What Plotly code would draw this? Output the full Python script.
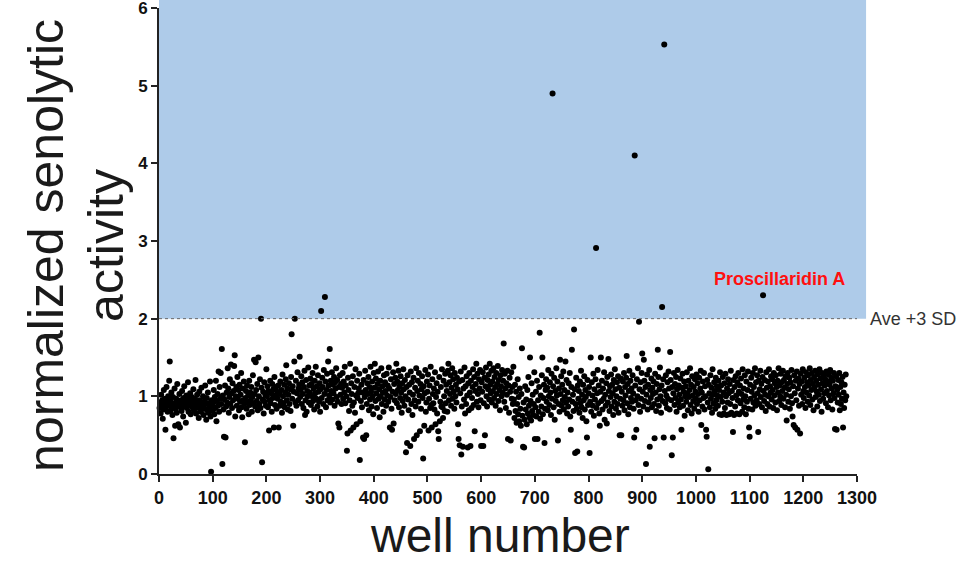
import plotly.graph_objects as go

# normalized senolytic activity per well (wells numbered 1..N)
activity = [
    0.85,0.92,0.78,1.02,0.88,0.95,0.71,0.83,1.08,0.9,0.97,0.57,0.86,1.12,0.93,0.8,1.0,0.89,1.2,1.45,
    0.94,0.82,1.05,0.87,0.76,0.99,0.46,0.91,1.1,0.62,0.84,0.97,0.79,1.16,0.88,0.64,0.93,1.03,0.6,0.86,
    0.95,0.81,1.07,0.9,0.74,0.98,1.13,0.87,0.92,0.66,1.01,0.85,0.96,1.18,0.8,0.93,0.89,1.04,0.77,0.91,
    0.99,0.86,0.94,1.09,0.82,0.9,0.97,1.21,0.78,0.88,1.02,0.93,0.85,0.72,1.06,0.95,0.89,0.8,1.11,0.92,
    0.87,1.0,0.76,0.93,0.84,1.14,0.9,0.7,0.98,0.82,1.05,0.79,0.91,0.86,1.19,0.74,0.03,0.95,0.88,0.81,
    0.92,1.08,0.77,0.99,0.85,1.2,0.68,0.94,1.03,0.88,1.32,0.8,1.12,0.97,1.3,0.9,1.61,0.13,1.01,0.83,
    0.48,0.96,1.14,0.47,0.87,1.05,0.92,1.36,1.1,0.79,0.99,1.22,0.9,1.41,1.04,0.85,1.17,0.95,1.07,1.39,
    1.53,0.74,1.0,1.12,0.88,1.25,0.97,1.08,0.82,1.15,0.93,1.02,1.3,0.86,0.73,1.1,0.95,1.19,0.9,0.41,
    0.98,1.07,0.84,1.14,0.92,1.01,0.77,1.2,0.89,1.05,0.95,1.12,0.8,0.99,1.27,0.91,1.47,1.03,0.87,1.44,
    1.08,0.94,1.16,0.82,1.5,1.0,0.9,1.22,0.85,2.0,1.11,0.15,0.96,1.06,0.78,1.18,0.93,1.02,0.88,1.35,
    1.0,1.13,0.86,1.07,0.56,0.95,1.2,0.91,1.04,0.8,1.16,0.98,1.09,0.6,1.25,0.89,1.01,1.12,0.84,1.06,
    0.97,1.14,0.6,1.03,0.88,1.19,0.93,1.08,0.79,1.28,1.0,0.91,1.15,0.86,1.05,1.22,1.4,0.95,1.1,0.83,
    1.02,1.17,0.9,1.09,0.81,1.25,1.8,0.97,1.13,0.62,1.06,1.45,2.0,0.92,1.2,0.88,1.04,1.31,0.95,1.1,
    1.15,1.51,0.99,1.08,1.26,0.9,1.18,1.03,0.85,1.12,1.33,0.76,0.95,1.21,0.8,1.07,1.0,1.37,0.92,1.14,
    1.05,1.23,0.89,1.16,1.0,1.3,0.94,1.1,0.83,1.2,1.04,1.38,0.97,1.13,0.87,1.27,1.06,0.93,1.17,0.8,
    1.09,2.1,0.98,1.24,1.12,0.9,1.34,1.03,2.28,1.19,0.86,1.08,1.29,0.95,1.45,1.14,1.01,1.61,0.92,1.2,
    1.07,1.31,0.96,1.15,1.04,1.25,0.88,1.18,1.1,1.36,0.99,1.21,0.93,0.65,1.12,0.6,1.27,1.02,1.16,0.9,
    1.11,1.3,0.97,1.19,1.05,1.38,0.91,1.14,1.0,0.3,0.52,1.24,1.08,0.81,0.95,1.42,0.56,1.17,1.03,0.88,
    1.26,0.6,0.92,1.12,0.79,1.35,1.01,0.64,1.2,0.98,1.04,1.1,1.29,0.18,0.68,0.94,1.15,0.86,1.05,0.47,
    1.21,0.45,0.99,1.33,1.08,0.5,0.9,1.17,1.03,1.25,0.82,1.12,0.96,1.38,1.06,0.87,1.19,1.0,0.77,1.3,
    1.11,1.42,0.94,1.23,1.04,0.85,1.16,1.32,0.97,1.09,0.73,1.2,1.0,1.36,0.9,1.13,1.05,0.8,1.27,0.96,
    1.18,1.07,0.88,1.29,1.01,1.14,0.93,1.37,1.1,0.6,0.99,1.22,0.84,0.57,1.06,1.31,0.65,1.16,0.95,1.24,
    1.03,1.42,0.91,1.19,1.08,1.33,0.86,1.13,0.98,1.26,1.05,0.79,1.17,0.94,1.35,1.09,0.88,1.21,1.0,0.28,
    1.12,0.4,1.27,0.96,0.82,1.15,1.05,0.36,1.32,0.9,1.18,0.76,1.02,1.24,0.45,0.95,1.11,0.87,1.36,0.5,
    1.07,1.2,0.93,1.3,1.01,0.55,1.16,0.84,1.09,1.26,0.98,0.2,1.13,0.62,1.04,1.34,0.8,0.92,1.19,1.06,
    1.28,0.56,0.97,1.14,0.85,1.38,0.89,0.6,1.22,1.03,0.91,1.1,0.83,1.31,0.64,0.99,1.17,0.78,1.06,0.55,
    0.45,1.25,0.68,0.93,1.12,0.87,1.35,0.86,0.72,1.2,1.0,0.81,1.29,0.91,1.15,1.07,0.8,1.33,1.42,0.95,
    1.18,1.03,1.27,0.88,1.11,1.36,0.97,1.22,1.06,0.84,1.3,1.0,1.15,0.92,1.24,1.09,0.64,0.45,1.19,0.37,
    1.04,1.32,0.25,0.87,1.21,0.35,1.1,0.96,1.37,0.78,1.13,0.9,1.26,1.01,0.34,1.17,0.82,1.3,1.05,0.36,
    1.2,0.85,0.98,1.12,1.35,0.89,1.25,0.55,1.07,1.16,1.42,0.93,1.29,1.03,0.86,1.22,1.1,1.34,0.95,0.36,
    1.18,1.06,1.31,0.36,0.91,1.24,0.5,1.13,1.37,1.0,0.87,1.21,1.09,1.28,0.96,1.42,1.15,1.04,1.33,0.92,
    1.19,1.07,1.36,0.98,1.25,1.12,0.88,1.3,1.03,1.16,1.39,0.94,1.21,1.08,0.82,1.27,1.13,1.0,1.34,1.05,
    1.2,1.68,0.93,1.29,1.1,0.85,1.17,1.02,1.33,0.45,1.14,0.79,1.24,1.06,0.43,1.31,0.97,1.12,0.9,1.38,
    0.96,0.72,1.15,0.81,1.06,0.66,0.9,1.22,0.77,0.99,0.68,1.1,0.84,0.62,1.03,1.62,0.75,0.35,0.92,0.34,
    0.7,1.13,0.83,0.96,0.64,1.08,0.78,1.25,0.88,0.73,1.5,0.94,0.69,1.17,0.81,1.02,0.76,0.9,1.31,0.45,
    0.86,1.06,0.74,1.2,0.45,0.95,0.8,1.12,1.82,0.71,1.01,0.87,1.27,1.5,0.77,0.98,1.15,0.4,0.84,1.08,
    1.22,0.93,1.11,0.82,1.34,1.0,0.89,1.18,1.05,0.76,1.29,0.97,4.9,1.13,0.86,1.24,0.7,1.07,0.94,1.36,
    1.01,1.19,0.43,0.9,1.1,0.8,1.47,1.03,1.26,0.88,1.15,0.95,1.32,0.83,1.08,0.99,1.45,0.92,1.21,0.78,
    1.05,0.87,1.17,0.96,1.3,0.74,0.57,1.12,1.6,0.93,1.02,0.81,1.86,1.09,0.27,0.9,1.24,0.84,0.29,1.14,
    0.97,1.07,0.79,1.19,0.91,1.33,0.86,1.02,0.72,1.15,0.95,1.26,0.83,1.08,0.99,0.68,0.47,1.21,0.89,1.04,
    1.12,0.27,0.93,1.5,0.8,1.18,1.01,0.88,1.29,0.75,1.09,0.96,1.22,2.91,0.85,1.04,1.34,0.91,1.14,0.78,
    0.62,1.06,1.5,0.94,1.2,0.83,1.1,0.97,1.31,0.7,1.02,0.88,1.17,0.65,1.25,0.92,1.48,1.07,0.81,1.13,
    0.99,1.28,0.87,1.15,1.04,0.76,1.21,0.93,1.35,1.09,0.84,1.0,1.18,0.9,1.26,0.79,1.11,0.5,0.97,1.23,
    0.5,1.06,0.88,1.19,0.95,1.3,0.82,1.12,1.01,1.24,1.52,0.91,1.16,0.77,1.07,1.33,0.86,1.2,0.98,1.1,
    0.93,1.27,1.04,0.84,0.47,4.1,1.14,0.95,0.57,1.22,1.0,1.36,0.89,1.96,1.09,0.8,1.18,0.97,1.3,1.55,
    1.06,0.87,1.47,1.2,0.94,1.12,0.13,1.02,1.28,0.83,1.15,0.92,1.34,0.35,1.08,0.98,1.23,0.86,1.11,1.03,
    1.19,0.9,0.46,1.29,1.05,0.81,1.16,0.96,1.6,1.25,0.88,1.09,1.37,1.0,0.79,1.14,2.15,0.94,1.22,0.47,
    5.53,1.07,0.91,1.27,1.01,0.85,1.18,0.97,1.32,1.1,0.83,1.57,1.21,0.95,0.24,1.12,0.47,1.04,1.3,0.89,
    1.16,0.98,1.25,0.8,1.09,1.34,0.92,1.14,1.02,0.86,1.23,0.96,0.57,1.11,1.29,0.88,1.06,1.19,0.75,1.0,
    1.13,0.93,1.31,1.04,0.82,1.2,0.99,1.08,1.36,0.89,1.15,0.78,1.26,1.01,0.94,1.12,0.84,1.22,1.06,0.97,
    1.28,0.9,1.17,1.03,0.8,1.24,0.95,1.1,1.33,0.63,1.05,0.87,1.19,0.98,1.3,0.83,1.13,1.0,0.57,0.48,
    1.21,0.92,0.06,1.15,1.04,0.86,1.27,0.97,1.11,0.79,1.35,1.02,0.91,1.18,1.07,0.84,1.24,0.95,1.13,1.01,
    0.88,1.2,1.08,0.77,1.31,0.99,1.14,0.76,0.93,1.25,1.05,0.78,1.17,0.85,1.29,1.0,0.76,1.1,0.92,1.22,
    1.04,0.77,1.16,0.9,1.33,0.79,1.07,0.98,0.54,1.21,0.76,1.12,0.87,1.26,1.01,0.78,1.18,0.95,1.3,1.06,
    0.77,1.14,0.91,1.23,1.03,0.8,1.35,0.96,1.1,0.86,1.27,1.0,0.77,1.19,0.93,1.08,1.32,0.84,0.6,0.48,
    1.15,0.97,1.24,1.06,0.83,1.3,0.92,1.12,1.01,1.36,0.88,1.18,0.95,1.27,1.04,0.54,1.2,0.9,1.09,1.33,
    0.99,1.16,0.86,1.25,2.3,1.07,0.94,1.21,1.02,0.81,1.31,1.11,0.9,1.19,1.0,1.35,0.87,1.13,1.05,1.26,
    0.96,1.22,1.08,0.85,1.3,1.01,1.17,0.92,1.27,1.12,0.82,1.2,1.05,1.36,0.94,1.14,1.0,1.29,0.89,1.18,
    1.07,1.33,0.97,1.21,1.11,0.86,1.26,1.02,0.69,1.16,1.3,0.93,1.09,1.24,0.84,1.18,1.0,1.34,0.91,0.74,
    1.13,0.63,1.27,1.04,0.6,1.2,0.95,1.32,0.57,1.1,1.23,0.88,1.16,0.52,1.29,1.02,1.19,0.9,1.35,1.07,
    0.98,1.24,1.12,0.85,1.31,1.05,1.18,0.93,1.27,1.14,1.01,1.36,0.89,1.21,1.08,1.3,0.96,1.16,0.82,1.25,
    1.11,1.33,0.99,1.2,1.06,0.87,1.28,1.15,1.02,1.35,0.94,1.23,1.09,0.8,1.3,1.17,0.97,1.26,1.04,1.14,
    1.22,0.91,1.32,1.07,1.19,0.86,1.28,1.01,1.15,1.34,0.95,1.24,1.1,0.83,1.2,1.04,1.3,0.98,0.58,1.13,
    1.26,0.57,1.08,0.92,1.21,1.02,1.3,0.82,1.12,0.9,1.18,0.97,1.25,0.6,1.05,0.85,1.15,0.95,1.28,1.0,
]
wells = list(range(1, len(activity) + 1))

threshold = 2.0            # Ave + 3 SD
threshold_label = "Ave +3 SD"
hit_label = "Proscillaridin A"
hit_well, hit_value = 1125, 2.3

x_ticks = list(range(0, 1301, 100))
y_ticks = [0, 1, 2, 3, 4, 5, 6]
y_max = 6

FONT = "Liberation Sans, Arial, Helvetica, sans-serif"

fig = go.Figure()
fig.add_trace(go.Scatter(
    x=wells, y=activity, mode="markers",
    marker=dict(color="black", size=6, line=dict(width=0)),
    cliponaxis=False, hoverinfo="x+y", showlegend=False,
))

# shaded region above threshold (extends to the top of the figure)
fig.add_shape(type="rect", xref="paper", yref="paper", x0=0, x1=1.013,
              y0=threshold / y_max, y1=1.03,
              fillcolor="#AECBE9", line=dict(width=0), layer="below")
# threshold line
fig.add_shape(type="line", xref="x", yref="y", x0=0, x1=1300, y0=threshold, y1=threshold,
              line=dict(color="#666666", width=1, dash="dot"), layer="above")

fig.add_annotation(xref="paper", yref="y", x=1.016, y=threshold, text=threshold_label,
                   showarrow=False, xanchor="left", yanchor="middle",
                   font=dict(family=FONT, size=18, color="#333333"))
fig.add_annotation(xref="x", yref="y", x=hit_well + 30, y=hit_value + 0.21, text="<b>" + hit_label + "</b>",
                   showarrow=False, xanchor="center", yanchor="middle",
                   font=dict(family=FONT, size=18, color="#FF1010"))

# axis titles
fig.add_annotation(xref="paper", yref="paper", x=-0.163, y=0.49, text="normalized senolytic",
                   textangle=-90, showarrow=False, xanchor="center", yanchor="middle",
                   font=dict(family=FONT, size=50, color="#1a1a1a"))
fig.add_annotation(xref="paper", yref="paper", x=-0.077, y=0.49, text="activity",
                   textangle=-90, showarrow=False, xanchor="center", yanchor="middle",
                   font=dict(family=FONT, size=50, color="#1a1a1a"))
fig.add_annotation(xref="paper", yref="paper", x=0.4885, y=-0.132, text="well number",
                   showarrow=False, xanchor="center", yanchor="middle",
                   font=dict(family=FONT, size=48, color="#1a1a1a"))

fig.update_layout(
    width=961, height=563,
    margin=dict(l=159, r=104, t=8, b=89, autoexpand=False),
    paper_bgcolor="white", plot_bgcolor="white",
    font=dict(family=FONT),
)
fig.update_xaxes(range=[0, 1300], tickvals=x_ticks, ticktext=[str(v) for v in x_ticks],
                 showline=True, linecolor="#222222", linewidth=2, mirror=False,
                 ticks="outside", ticklen=6, tickwidth=2, tickcolor="#222222",
                 ticklabeloverflow="allow", automargin=False,
                 tickfont=dict(family=FONT, size=18, color="#111111", weight="bold"),
                 showgrid=False, zeroline=False)
fig.update_yaxes(range=[0, y_max], tickvals=y_ticks, ticktext=[str(v) for v in y_ticks],
                 showline=True, linecolor="#222222", linewidth=2,
                 ticks="outside", ticklen=6, tickwidth=2, tickcolor="#222222",
                 ticklabeloverflow="allow", automargin=False,
                 tickfont=dict(family=FONT, size=17, color="#111111", weight="bold"),
                 showgrid=False, zeroline=False)

fig.write_html("out.html")
